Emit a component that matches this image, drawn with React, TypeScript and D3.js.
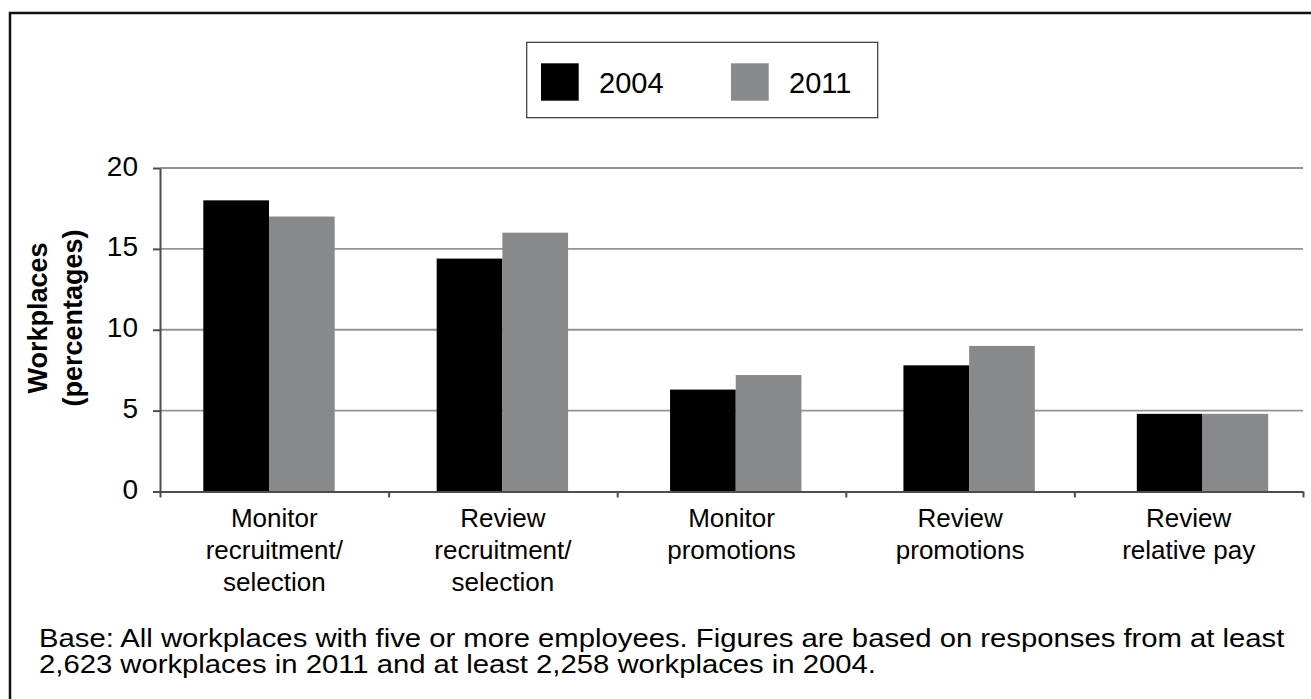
import * as d3 from "d3";
import { useRef, useEffect } from "react";

const WIDTH = 1311;
const HEIGHT = 699;
const FONT = "'Liberation Sans', Arial, sans-serif";

// data
const categories = [
  "Monitor recruitment/ selection",
  "Review recruitment/ selection",
  "Monitor promotions",
  "Review promotions",
  "Review relative pay",
];
const categoryLines = [
  ["Monitor", "recruitment/", "selection"],
  ["Review", "recruitment/", "selection"],
  ["Monitor", "promotions"],
  ["Review", "promotions"],
  ["Review", "relative pay"],
];
const seriesNames = ["2004", "2011"];
const values2004 = [18, 14.4, 6.3, 7.8, 4.8];
const values2011 = [17, 16, 7.2, 9, 4.8];
const yTicks = [0, 5, 10, 15, 20];
const colors = ["#000000", "#88898b"];
const yTitle = ["Workplaces", "(percentages)"];
const footnote = [
  "Base: All workplaces with five or more employees. Figures are based on responses from at least",
  "2,623 workplaces in 2011 and at least 2,258 workplaces in 2004.",
];

const PLOT = { left: 160, right: 1303, top: 168, bottom: 491.5 };

export default function App() {
  const svgRef = useRef(null);

  useEffect(() => {
    const svg = d3.select(svgRef.current);
    svg.selectAll("*").remove();

    // outer frame (right/bottom sides fall outside the picture)
    svg
      .append("rect")
      .attr("x", 10)
      .attr("y", 13)
      .attr("width", 2000)
      .attr("height", 2000)
      .attr("fill", "white")
      .attr("stroke", "#111")
      .attr("stroke-width", 2.5);

    const y = d3.scaleLinear().domain([0, 20]).range([PLOT.bottom, PLOT.top]);
    const xCat = d3
      .scaleBand()
      .domain(categories)
      .range([PLOT.left, PLOT.right]);
    const xEdge = d3
      .scaleLinear()
      .domain([0, categories.length])
      .range([PLOT.left, PLOT.right]);
    // bar groups sit on their own spacing in the original
    const xGroup = d3.scalePoint().domain(categories).range([269, 1202.5]);
    const xSub = d3.scaleBand().domain(seriesNames).range([-65.7, 65.7]);

    // gridlines
    svg
      .append("g")
      .selectAll("line")
      .data(yTicks.filter((t) => t > 0))
      .enter()
      .append("line")
      .attr("x1", PLOT.left)
      .attr("x2", PLOT.right)
      .attr("y1", (d) => y(d))
      .attr("y2", (d) => y(d))
      .attr("stroke", "#939393")
      .attr("stroke-width", 1.8);

    // bars
    const series = [values2004, values2011];
    series.forEach((vals, si) => {
      svg
        .append("g")
        .selectAll("rect")
        .data(vals)
        .enter()
        .append("rect")
        .attr("x", (d, i) => xGroup(categories[i]) + xSub(seriesNames[si]))
        .attr("y", (d) => y(d))
        .attr("width", xSub.bandwidth())
        .attr("height", (d) => y(0) - y(d))
        .attr("fill", colors[si]);
    });

    // y axis
    const yAxis = svg
      .append("g")
      .attr("transform", `translate(${PLOT.left},0)`)
      .call(
        d3.axisLeft(y).tickValues(yTicks).tickSize(7).tickSizeOuter(0).tickPadding(15)
      );
    yAxis.select(".domain").attr("stroke", "#4d4d4d").attr("stroke-width", 2);
    yAxis.selectAll(".tick line").attr("stroke", "#4d4d4d").attr("stroke-width", 2);
    yAxis
      .selectAll("text")
      .attr("font-family", FONT)
      .attr("font-size", 28)
      .attr("fill", "#000")
      .attr("dy", "0.25em");

    // x axis: ticks between categories
    const xAxis = svg
      .append("g")
      .attr("transform", `translate(0,${PLOT.bottom})`)
      .call(
        d3
          .axisBottom(xEdge)
          .tickValues(d3.range(categories.length + 1))
          .tickFormat(() => "")
          .tickSize(6)
          .tickSizeOuter(0)
      );
    xAxis.select(".domain").attr("stroke", "#4d4d4d").attr("stroke-width", 2);
    xAxis.selectAll(".tick line").attr("stroke", "#4d4d4d").attr("stroke-width", 2);

    // category labels
    const labels = svg
      .append("g")
      .attr("font-family", FONT)
      .attr("font-size", 26)
      .attr("text-anchor", "middle");
    categories.forEach((c, i) => {
      labels
        .append("text")
        .attr("x", xCat(c) + xCat.bandwidth() / 2)
        .attr("y", 527.3)
        .selectAll("tspan")
        .data(categoryLines[i])
        .enter()
        .append("tspan")
        .attr("x", xCat(c) + xCat.bandwidth() / 2)
        .attr("dy", (d, j) => (j === 0 ? 0 : 31.7))
        .text((d) => d);
    });

    // y title
    yTitle.forEach((t, i) => {
      svg
        .append("text")
        .attr("transform", `translate(${46.5 + i * 35},318) rotate(-90)`)
        .attr("text-anchor", "middle")
        .attr("font-family", FONT)
        .attr("font-size", 27)
        .attr("font-weight", "bold")
        .text(t);
    });

    // legend
    const legend = svg.append("g");
    legend
      .append("rect")
      .attr("x", 526.7)
      .attr("y", 42.3)
      .attr("width", 351)
      .attr("height", 75.4)
      .attr("fill", "white")
      .attr("stroke", "#333")
      .attr("stroke-width", 1.2);
    seriesNames.forEach((s, i) => {
      const lx = 541 + i * 190;
      legend
        .append("rect")
        .attr("x", lx)
        .attr("y", 63.3)
        .attr("width", 37.7)
        .attr("height", 37.4)
        .attr("fill", colors[i]);
      legend
        .append("text")
        .attr("x", lx + 58)
        .attr("y", 93.3)
        .attr("font-family", FONT)
        .attr("font-size", 29)
        .text(s);
    });

    // footnote (glyphs are a bit wide and short in the original)
    footnote.forEach((t, i) => {
      svg
        .append("text")
        .attr("transform", `translate(39,${647 + i * 25.5}) scale(1.1,1)`)
        .attr("font-family", FONT)
        .attr("font-size", 26.6)
        .text(t);
    });
  }, []);

  return (
    <svg
      ref={svgRef}
      width={WIDTH}
      height={HEIGHT}
      style={{ position: "absolute", left: 0, top: 0, background: "white" }}
    />
  );
}
